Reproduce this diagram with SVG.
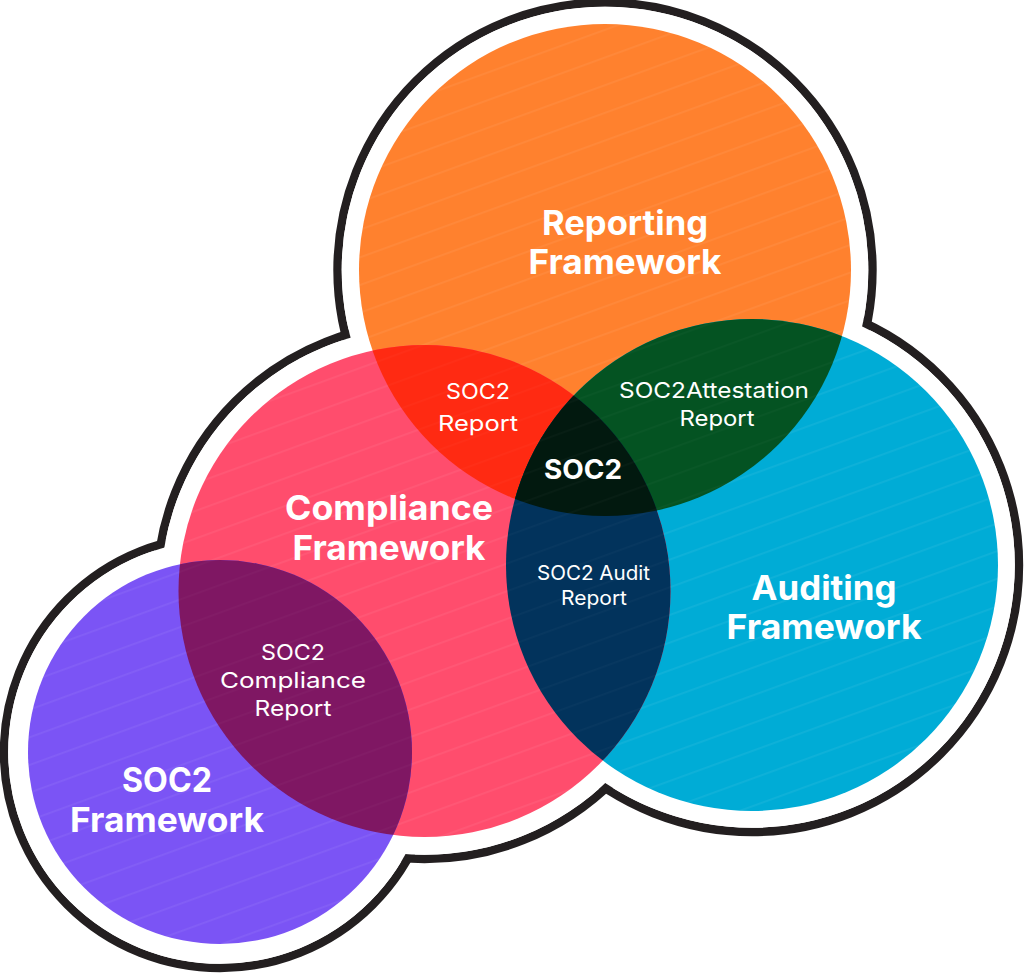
<svg xmlns="http://www.w3.org/2000/svg" width="1024" height="973" viewBox="0 0 1024 973">
<style>
.ol{fill:none;stroke:#231f20;stroke-width:8.4}
.bg{fill:#fff}
text{fill:#fff;text-anchor:middle;font-family:"Inter","Noto Sans","Liberation Sans",sans-serif}
.h{font-size:34px;font-weight:700}
.m{font-size:22px;font-weight:400}
.s{font-size:20px;font-weight:400}
.c{font-size:27px;font-weight:700}
</style>
<defs>
<clipPath id="cO"><circle cx="605" cy="270" r="246"/></clipPath>
<clipPath id="cB"><circle cx="752" cy="565" r="246"/></clipPath>
<clipPath id="cP"><circle cx="424.5" cy="591" r="246"/></clipPath>
<pattern id="st" width="26" height="26" patternUnits="userSpaceOnUse" patternTransform="rotate(-20)">
<rect width="26" height="1.8" fill="#fff" fill-opacity=".06"/>
</pattern>
<pattern id="sd" width="26" height="26" patternUnits="userSpaceOnUse" patternTransform="rotate(-20)">
<rect width="26" height="1.8" fill="#fff" fill-opacity=".025"/>
</pattern>
</defs>
<g id="outline">
<circle class="ol" cx="605" cy="270" r="267.5"/>
<circle class="ol" cx="752" cy="565" r="267"/>
<circle class="ol" cx="424.5" cy="591" r="268"/>
<circle class="ol" cx="220" cy="752" r="216"/>
<circle class="bg" cx="605" cy="270" r="263.3"/>
<circle class="bg" cx="752" cy="565" r="262.8"/>
<circle class="bg" cx="424.5" cy="591" r="263.8"/>
<circle class="bg" cx="220" cy="752" r="211.8"/>
</g>
<g id="reporting-framework">
<circle cx="605" cy="270" r="246" fill="#ff812e"/>
<circle cx="605" cy="270" r="246" fill="url(#st)"/>
</g>
<g id="auditing-framework">
<circle cx="752" cy="565" r="246" fill="#00acd6"/>
<circle cx="752" cy="565" r="246" fill="url(#st)"/>
</g>
<g id="compliance-framework">
<circle cx="424.5" cy="591" r="246" fill="#ff4d6d"/>
<circle cx="424.5" cy="591" r="246" fill="url(#st)"/>
</g>
<g id="soc2-framework">
<circle cx="220" cy="752" r="192" fill="#7b54f5"/>
<circle cx="220" cy="752" r="192" fill="url(#st)"/>
</g>
<g id="soc2-report" clip-path="url(#cO)">
<circle cx="424.5" cy="591" r="246" fill="#ff2a12"/>
<circle cx="424.5" cy="591" r="246" fill="url(#sd)"/>
</g>
<g id="soc2-attestation-report" clip-path="url(#cO)">
<circle cx="752" cy="565" r="246" fill="#045322"/>
<circle cx="752" cy="565" r="246" fill="url(#sd)"/>
</g>
<g id="soc2-audit-report" clip-path="url(#cB)">
<circle cx="424.5" cy="591" r="246" fill="#02335c"/>
<circle cx="424.5" cy="591" r="246" fill="url(#sd)"/>
</g>
<g id="soc2-compliance-report" clip-path="url(#cP)">
<circle cx="220" cy="752" r="192" fill="#7f1763"/>
<circle cx="220" cy="752" r="192" fill="url(#sd)"/>
</g>
<g id="soc2-core" clip-path="url(#cO)">
<g clip-path="url(#cB)">
<circle cx="424.5" cy="591" r="246" fill="#02190f"/>
<circle cx="424.5" cy="591" r="246" fill="url(#sd)"/>
</g>
</g>
<g id="labels">
<text class="h" x="625" y="235" textLength="166" lengthAdjust="spacingAndGlyphs">Reporting</text>
<text class="h" x="625" y="274" textLength="193" lengthAdjust="spacingAndGlyphs">Framework</text>
<text class="h" x="389" y="520" textLength="208" lengthAdjust="spacingAndGlyphs">Compliance</text>
<text class="h" x="389" y="560" textLength="193" lengthAdjust="spacingAndGlyphs">Framework</text>
<text class="h" x="824" y="600" textLength="145" lengthAdjust="spacingAndGlyphs">Auditing</text>
<text class="h" x="824" y="639" textLength="195" lengthAdjust="spacingAndGlyphs">Framework</text>
<text class="h" x="167" y="792" textLength="90" lengthAdjust="spacingAndGlyphs">SOC2</text>
<text class="h" x="167" y="832" textLength="194" lengthAdjust="spacingAndGlyphs">Framework</text>
<text class="c" x="583" y="479" textLength="78" lengthAdjust="spacingAndGlyphs">SOC2</text>
<text class="m" x="478" y="399" textLength="64" lengthAdjust="spacingAndGlyphs">SOC2</text>
<text class="m" x="478" y="431" textLength="80" lengthAdjust="spacingAndGlyphs">Report</text>
<text class="m" x="714" y="398" textLength="190" lengthAdjust="spacingAndGlyphs">SOC2Attestation</text>
<text class="m" x="717" y="426" textLength="75" lengthAdjust="spacingAndGlyphs">Report</text>
<text class="s" x="593.5" y="580" textLength="113" lengthAdjust="spacingAndGlyphs">SOC2 Audit</text>
<text class="s" x="594" y="605" textLength="66" lengthAdjust="spacingAndGlyphs">Report</text>
<text class="m" x="293" y="660" textLength="64" lengthAdjust="spacingAndGlyphs">SOC2</text>
<text class="m" x="293" y="688" textLength="146" lengthAdjust="spacingAndGlyphs">Compliance</text>
<text class="m" x="293" y="716" textLength="77" lengthAdjust="spacingAndGlyphs">Report</text>
</g>
</svg>
